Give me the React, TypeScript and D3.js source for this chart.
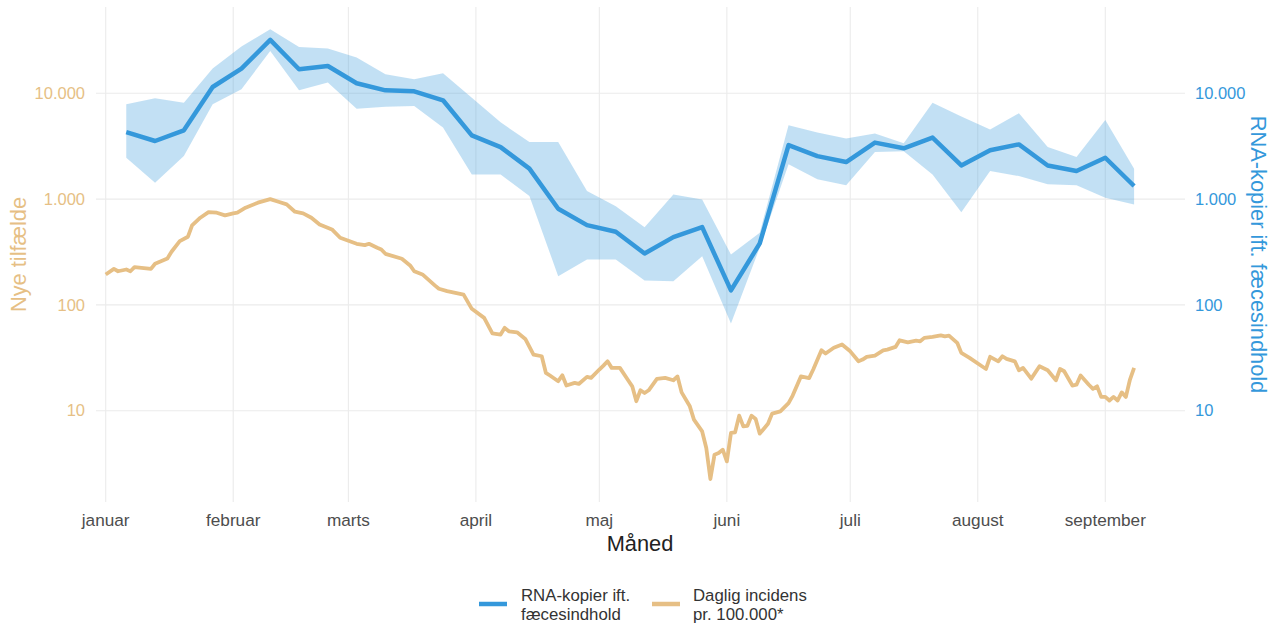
import React from "react";
import * as d3 from "d3";

// months on the x axis (2022)
const monthLabels = ["januar", "februar", "marts", "april", "maj", "juni", "juli", "august", "september"];
const monthStarts = ["2022-01-01", "2022-02-01", "2022-03-01", "2022-04-01", "2022-05-01", "2022-06-01", "2022-07-01", "2022-08-01", "2022-09-01"];

const yTicks = [10, 100, 1000, 10000];
const yTickLabels = ["10", "100", "1.000", "10.000"];

// weekly RNA copies relative to faecal content, with uncertainty band
const rnaDates = [
  "2022-01-06", "2022-01-13", "2022-01-20", "2022-01-27", "2022-02-03", "2022-02-10", "2022-02-17", "2022-02-24",
  "2022-03-03", "2022-03-10", "2022-03-17", "2022-03-24", "2022-03-31", "2022-04-07", "2022-04-14", "2022-04-21",
  "2022-04-28", "2022-05-05", "2022-05-12", "2022-05-19", "2022-05-26", "2022-06-02", "2022-06-09", "2022-06-16",
  "2022-06-23", "2022-06-30", "2022-07-07", "2022-07-14", "2022-07-21", "2022-07-28", "2022-08-04", "2022-08-11",
  "2022-08-18", "2022-08-25", "2022-09-01", "2022-09-08",
];
const rnaValue = [
  4300, 3540, 4470, 11470, 17130, 31940, 16870, 18130, 12440, 10670, 10450, 8590, 4000, 3100, 1940, 811,
  567, 491, 306, 437, 543, 137, 381, 3240, 2550, 2240, 3420, 3020, 3810, 2080, 2900, 3290,
  2080, 1840, 2460, 1330,
];
const rnaUpper = [
  7870, 8970, 8160, 17130, 27670, 40360, 27420, 26490, 21780, 15140, 13570, 15460, 9100, 5320, 3460, 3460,
  1190, 858, 543, 1107, 993, 300, 481, 4980, 4250, 3730, 4180, 3370, 8160, 6020, 4560, 6470,
  3100, 2500, 5590, 1940,
];
const rnaLower = [
  2460, 1430, 2550, 7870, 10910, 25120, 10670, 12620, 7160, 7480, 7590, 4740, 1710, 1710, 1070, 187,
  268, 268, 170, 167, 288, 66.6, 349, 2130, 1540, 1350, 2780, 2840, 1710, 753, 1840, 1650,
  1380, 1350, 1030, 891,
];

// daily incidence per 100.000 (days after 1 January 2022)
const caseDays = [
  0, 2, 3, 5, 6, 7, 11, 12, 15, 16, 18, 20, 21, 23, 25, 27, 29, 31, 32, 34, 37, 40, 42, 44, 46, 48, 50, 52, 55, 57,
  61, 63, 64, 66, 67, 68, 72, 74, 75, 77, 80, 81, 83, 85, 87, 89, 92, 94, 96, 97, 98, 100, 102, 104, 106, 107, 108,
  110, 111, 112, 114, 115, 117, 118, 120, 121, 122, 123, 125, 127, 128, 129, 130, 131, 132, 134, 136, 138, 139, 140,
  142, 143, 145, 146, 147, 148, 149, 150, 151, 152, 153, 154, 155, 156, 157, 158, 159, 161, 162, 164, 166, 167, 169,
  171, 172, 174, 175, 177, 179, 181, 183, 184, 185, 187, 189, 190, 192, 193, 195, 197, 198, 199, 201, 203, 204, 205,
  207, 208, 210, 213, 214, 215, 217, 218, 219, 221, 222, 223, 225, 227, 229, 231, 232, 233, 235, 236, 237, 239, 240,
  241, 242, 243, 244, 245, 246, 247, 248, 249, 250,
];
const caseValues = [
  194, 219, 208, 216, 208, 227, 219, 245, 275, 318, 400, 441, 564, 667, 753, 744, 701, 733, 744, 829, 925, 1000, 945,
  891, 760, 733, 667, 576, 517, 431, 378, 367, 378, 347, 334, 304, 273, 236, 208, 194, 153, 142, 135, 130, 125, 91.8,
  75.4, 53.9, 52.4, 60.7, 56.3, 55.1, 47.7, 33.9, 32.7, 22.8, 21.5, 19.0, 21.6, 17.3, 18.3, 17.9, 20.9, 20.4, 24.5,
  26.7, 29.3, 25.4, 25.4, 19.4, 17.0, 12.3, 15.6, 14.7, 15.6, 20.0, 20.4, 19.4, 21.1, 14.9, 11.0, 8.23, 6.37, 4.44,
  2.26, 3.84, 3.98, 4.28, 3.32, 6.16, 6.24, 8.98, 7.11, 7.2, 8.98, 8.35, 6.07, 7.54, 9.38, 9.86, 11.8, 13.9, 21.1,
  20.3, 24.5, 37.2, 34.7, 39.3, 42.2, 36.4, 29.3, 30.4, 32.3, 33.2, 37.2, 37.8, 40.1, 46.3, 44.3, 46.0, 45.3, 48.8,
  49.9, 51.6, 50.5, 51.3, 43.8, 35.2, 31.6, 26.3, 24.8, 32.3, 29.3, 32.7, 30.9, 29.3, 24.1, 25.4, 20.1, 26.3, 24.1,
  19.4, 24.8, 23.6, 17.3, 17.6, 21.5, 17.6, 16.1, 17.0, 13.5, 13.5, 12.5, 13.5, 12.5, 14.9, 13.5, 19.7, 25.4,
];

const W = 1277;
const H = 625;
const panel = { left: 96, right: 1185, top: 7, bottom: 502 };
const blue = "#3498db";
const orange = "#e6bf85";
const font = "'Liberation Sans', Arial, sans-serif";

const parse = d3.utcParse("%Y-%m-%d");
const jan1 = parse("2022-01-01") as Date;

export default function App() {
  const x = d3.scaleUtc()
    .domain([jan1, parse("2022-09-01") as Date])
    .range([105.7, 1105.3]);
  const y = d3.scaleLog().domain([10, 10000]).range([410.7, 93.3]);

  const rna = rnaDates.map((d, i) => ({ date: parse(d) as Date, v: rnaValue[i], lo: rnaLower[i], hi: rnaUpper[i] }));
  const cases = caseDays.map((d, i) => ({ date: d3.utcDay.offset(jan1, d), v: caseValues[i] }));

  const area = d3.area<any>().x(d => x(d.date)).y0(d => y(d.lo)).y1(d => y(d.hi));
  const rnaLine = d3.line<any>().x(d => x(d.date)).y(d => y(d.v));
  const caseLine = d3.line<any>().x(d => x(d.date)).y(d => y(d.v));

  const midY = (panel.top + panel.bottom) / 2;

  return (
    <svg width={W} height={H} style={{ position: "absolute", left: 0, top: 0, fontFamily: font }}>
      <rect width={W} height={H} fill="white" />
      {/* grid */}
      <g stroke="#ebebeb" strokeWidth={1.1}>
        {yTicks.map(t => (
          <line key={t} x1={panel.left} x2={panel.right} y1={y(t)} y2={y(t)} />
        ))}
        {monthStarts.map(m => (
          <line key={m} x1={x(parse(m) as Date)} x2={x(parse(m) as Date)} y1={panel.top} y2={panel.bottom} />
        ))}
      </g>

      <path d={area(rna) || ""} fill={blue} fillOpacity={0.3} />
      <path d={rnaLine(rna) || ""} fill="none" stroke={blue} strokeWidth={4.5} strokeLinejoin="round" />
      <path d={caseLine(cases) || ""} fill="none" stroke={orange} strokeWidth={3.8} strokeLinejoin="round" />

      {/* y tick labels */}
      <g fontSize={16.5}>
        {yTicks.map((t, i) => (
          <text key={"l" + t} x={85} y={y(t)} dy="0.35em" textAnchor="end" fill={orange}>{yTickLabels[i]}</text>
        ))}
        {yTicks.map((t, i) => (
          <text key={"r" + t} x={1195} y={y(t)} dy="0.35em" textAnchor="start" fill={blue}>{yTickLabels[i]}</text>
        ))}
      </g>

      {/* x tick labels */}
      <g fontSize={17.2} fill="#4d4d4d">
        {monthStarts.map((m, i) => (
          <text key={m} x={x(parse(m) as Date)} y={526} textAnchor="middle">{monthLabels[i]}</text>
        ))}
      </g>

      {/* axis titles */}
      <text x={640} y={551} textAnchor="middle" fontSize={21.8} fill="#222">Måned</text>
      <text transform={`translate(18,${midY}) rotate(-90)`} textAnchor="middle" dy="0.35em" fontSize={21.8} fill={orange}>Nye tilfælde</text>
      <text transform={`translate(1259,${midY}) rotate(90)`} textAnchor="middle" dy="0.35em" fontSize={21.8} fill={blue}>RNA-kopier ift. fæcesindhold</text>

      {/* legend */}
      <g fontSize={16.8} fill="#333">
        <line x1={479} x2={507} y1={604} y2={604} stroke={blue} strokeWidth={4.5} />
        <text x={521} y={600.5}>RNA-kopier ift.</text>
        <text x={521} y={619.5}>fæcesindhold</text>
        <line x1={652} x2={680} y1={604} y2={604} stroke={orange} strokeWidth={4.5} />
        <text x={693} y={600.5}>Daglig incidens</text>
        <text x={693} y={619.5}>pr. 100.000*</text>
      </g>
    </svg>
  );
}
